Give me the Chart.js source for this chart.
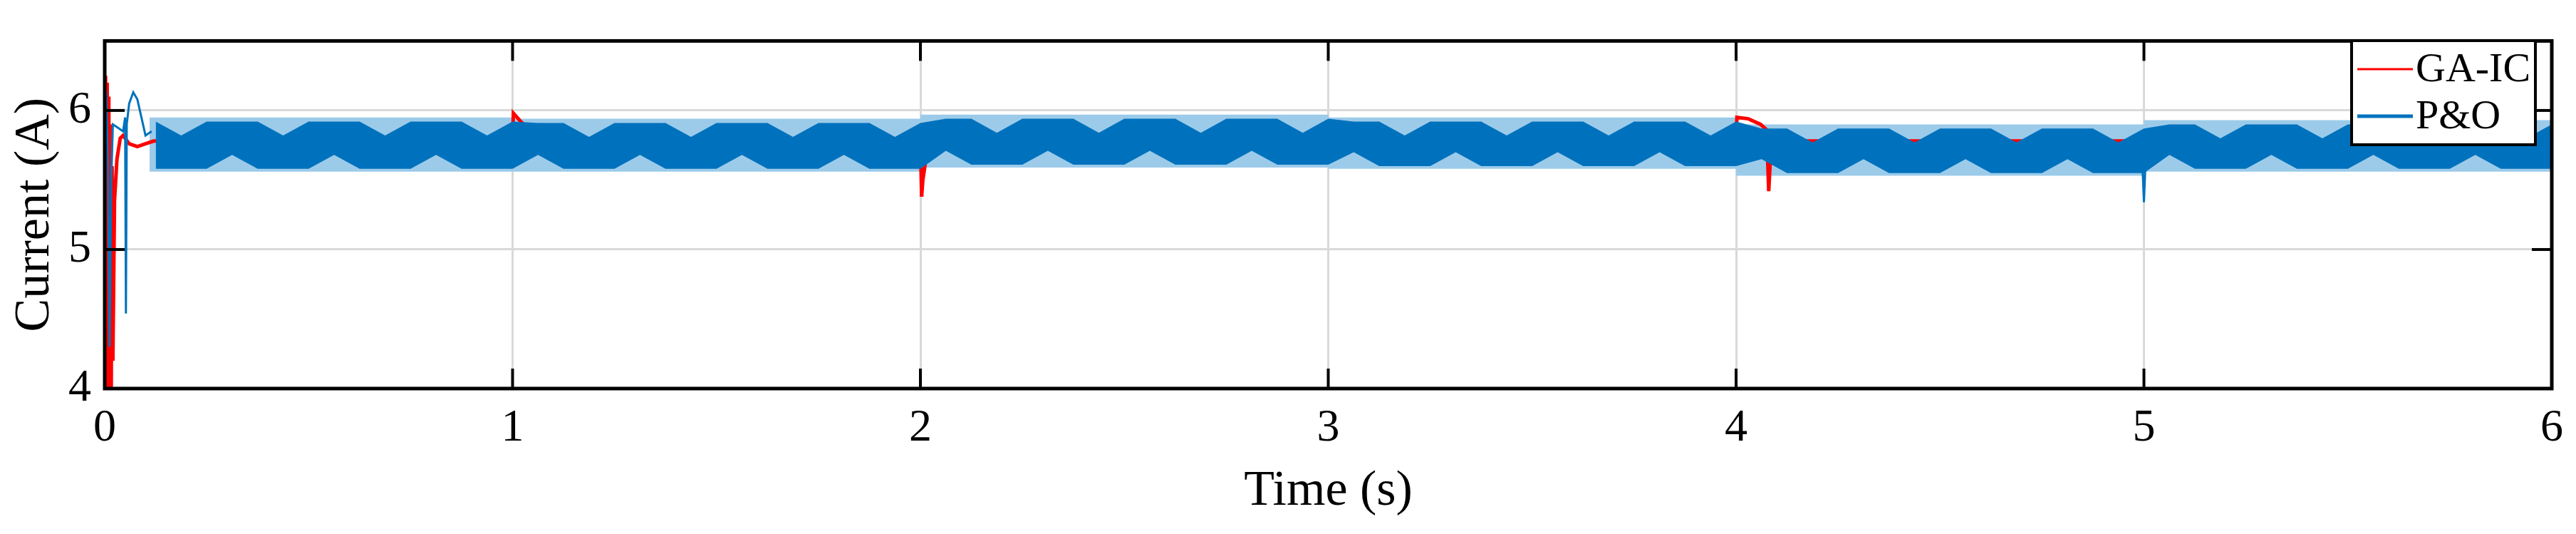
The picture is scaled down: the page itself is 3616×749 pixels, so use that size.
<!DOCTYPE html>
<html>
<head>
<meta charset="utf-8">
<script src="https://cdn.jsdelivr.net/npm/chart.js@4/dist/chart.umd.min.js"></script>
<style>
  html, body { margin: 0; padding: 0; background: #fff; }
  #wrap { width: 3616px; height: 749px; }
</style>
</head>
<body>
<div id="wrap"><canvas id="c" width="3616" height="749"></canvas></div>
<script>
"use strict";

// GA-IC trace (transients visible, otherwise hidden under the P&O band)
var gaTime = [0, 0.002, 0.004, 0.006, 0.008, 0.010, 0.012, 0.014, 0.016, 0.018, 0.020, 0.024, 0.03, 0.038, 0.045, 0.06, 0.08, 0.1, 0.12,
    1.0, 1.002, 1.02, 1.05, 1.08,
    2.0, 2.003, 2.006, 2.012, 2.02, 2.04,
    4.0, 4.002, 4.03, 4.06, 4.075, 4.08, 4.085, 4.1,
    6.0];
var gaCurrent = [4, 6.25, 4, 6.2, 4, 6.1, 4, 5.9, 4, 5.6, 4.2, 5.35, 5.65, 5.8, 5.82, 5.76, 5.74, 5.76, 5.78,
    5.78, 5.98, 5.92, 5.84, 5.78,
    5.78, 5.38, 5.5, 5.62, 5.72, 5.78,
    5.8, 5.95, 5.94, 5.9, 5.86, 5.42, 5.7, 5.78,
    5.78];

// P&O start-up transient and the dip at t = 5 s
var poTime = [0, 0.004, 0.008, 0.012, 0.016, 0.02, 0.03, 0.045, 0.05, 0.052, 0.054, 0.06, 0.07, 0.08, 0.09, 0.1, 0.115,
    2.5,
    4.995, 5.0, 5.005];
var poCurrent = [6.2, 6.1, 5.6, 4.3, 5.5, 5.9, 5.88, 5.85, 5.95, 4.54, 5.9, 6.05, 6.13, 6.08, 5.95, 5.82, 5.85,
    null,
    5.7, 5.34, 5.7];

// P&O ripple band (dense switching ripple drawn as an envelope)
var bandTime = [0.125, 0.1875, 0.25, 0.3125, 0.375, 0.4375, 0.5, 0.5625, 0.625, 0.6875, 0.75, 0.8125, 0.875, 0.9375, 1.0,
    1.0625, 1.125, 1.1875, 1.25, 1.3125, 1.375, 1.4375, 1.5, 1.5625, 1.625, 1.6875, 1.75, 1.8125, 1.875, 1.9375, 2.0,
    2.0625, 2.125, 2.1875, 2.25, 2.3125, 2.375, 2.4375, 2.5, 2.5625, 2.625, 2.6875, 2.75, 2.8125, 2.875, 2.9375, 3.0,
    3.0625, 3.125, 3.1875, 3.25, 3.3125, 3.375, 3.4375, 3.5, 3.5625, 3.625, 3.6875, 3.75, 3.8125, 3.875, 3.9375, 4.0,
    4.0625, 4.125, 4.1875, 4.25, 4.3125, 4.375, 4.4375, 4.5, 4.5625, 4.625, 4.6875, 4.75, 4.8125, 4.875, 4.9375, 5.0,
    5.0625, 5.125, 5.1875, 5.25, 5.3125, 5.375, 5.4375, 5.5, 5.5625, 5.625, 5.6875, 5.75, 5.8125, 5.875, 5.9375, 6.0];
var bandUpper = [5.92, 5.82, 5.92, 5.92, 5.92, 5.82, 5.92, 5.92, 5.92, 5.82, 5.92, 5.92, 5.92, 5.82, 5.92,
    5.91, 5.91, 5.81, 5.91, 5.91, 5.91, 5.81, 5.91, 5.91, 5.91, 5.81, 5.91, 5.91, 5.91, 5.81, 5.91,
    5.94, 5.94, 5.84, 5.94, 5.94, 5.94, 5.84, 5.94, 5.94, 5.94, 5.84, 5.94, 5.94, 5.94, 5.84, 5.94,
    5.92, 5.92, 5.82, 5.92, 5.92, 5.92, 5.82, 5.92, 5.92, 5.92, 5.82, 5.92, 5.92, 5.92, 5.82, 5.92,
    5.87, 5.87, 5.77, 5.87, 5.87, 5.87, 5.77, 5.87, 5.87, 5.87, 5.77, 5.87, 5.87, 5.87, 5.77, 5.87,
    5.90, 5.90, 5.80, 5.90, 5.90, 5.90, 5.80, 5.90, 5.90, 5.90, 5.80, 5.90, 5.90, 5.90, 5.80, 5.90];
var bandLower = [5.58, 5.58, 5.58, 5.68, 5.58, 5.58, 5.58, 5.68, 5.58, 5.58, 5.58, 5.68, 5.58, 5.58, 5.58,
    5.68, 5.58, 5.58, 5.58, 5.68, 5.58, 5.58, 5.58, 5.68, 5.58, 5.58, 5.58, 5.68, 5.58, 5.58, 5.58,
    5.71, 5.61, 5.61, 5.61, 5.71, 5.61, 5.61, 5.61, 5.71, 5.61, 5.61, 5.61, 5.71, 5.61, 5.61, 5.61,
    5.70, 5.60, 5.60, 5.60, 5.70, 5.60, 5.60, 5.60, 5.70, 5.60, 5.60, 5.60, 5.70, 5.60, 5.60, 5.60,
    5.65, 5.55, 5.55, 5.55, 5.65, 5.55, 5.55, 5.55, 5.65, 5.55, 5.55, 5.55, 5.65, 5.55, 5.55, 5.55,
    5.68, 5.58, 5.58, 5.58, 5.68, 5.58, 5.58, 5.58, 5.68, 5.58, 5.58, 5.58, 5.68, 5.58, 5.58, 5.58];
// outer (light) ripple extent per second
var rippleTime = [0.11, 1.0, 1.0, 2.0, 2.0, 3.0, 3.0, 4.0, 4.0, 5.0, 5.0, 6.0];
var rippleUpper = [5.95, 5.95, 5.94, 5.94, 5.97, 5.97, 5.95, 5.95, 5.90, 5.90, 5.93, 5.93];
var rippleLower = [5.56, 5.56, 5.56, 5.56, 5.59, 5.59, 5.58, 5.58, 5.53, 5.53, 5.56, 5.56];

var xTicks = [0, 1, 2, 3, 4, 5, 6];
var yTicks = [4, 5, 6];
var legendLabels = ["GA-IC", "P&O"];
var legendColors = ["#ff0000", "#0072bd"];

var FONT = "'Liberation Serif', 'Times New Roman', serif";
var BLUE = "#0072bd";
var LIGHT = "#9ccbea";

function pts(xs, ys) {
    var out = [];
    for (var i = 0; i < xs.length; i++) out.push({ x: xs[i], y: ys[i] });
    return out;
}

// frame, inward ticks and legend box, MATLAB style
var framePlugin = {
    id: "frame",
    afterDraw: function (chart) {
        var ctx = chart.ctx, a = chart.chartArea;
        var xs = chart.scales.x, ys = chart.scales.y;
        ctx.save();
        ctx.strokeStyle = "#000";
        ctx.lineWidth = 4;
        xTicks.forEach(function (v) {
            var px = xs.getPixelForValue(v);
            ctx.beginPath(); ctx.moveTo(px, a.bottom); ctx.lineTo(px, a.bottom - 28); ctx.stroke();
            ctx.beginPath(); ctx.moveTo(px, a.top); ctx.lineTo(px, a.top + 28); ctx.stroke();
        });
        yTicks.forEach(function (v) {
            var py = ys.getPixelForValue(v);
            ctx.beginPath(); ctx.moveTo(a.left, py); ctx.lineTo(a.left + 28, py); ctx.stroke();
            ctx.beginPath(); ctx.moveTo(a.right, py); ctx.lineTo(a.right - 28, py); ctx.stroke();
        });
        ctx.lineWidth = 5;
        ctx.strokeRect(a.left, a.top, a.right - a.left, a.bottom - a.top);

        // legend
        var lx = 3301, ly = 57, lw = 258, lh = 146;
        ctx.fillStyle = "#fff";
        ctx.fillRect(lx, ly, lw, lh);
        ctx.lineWidth = 4;
        ctx.strokeRect(lx, ly, lw, lh);
        ctx.font = "58px " + FONT;
        ctx.textBaseline = "middle";
        for (var i = 0; i < legendLabels.length; i++) {
            var cy = ly + 40 + i * 66;
            ctx.strokeStyle = legendColors[i];
            ctx.lineWidth = i === 0 ? 3 : 5;
            ctx.beginPath(); ctx.moveTo(lx + 8, cy); ctx.lineTo(lx + 86, cy); ctx.stroke();
            ctx.fillStyle = "#000";
            ctx.fillText(legendLabels[i], lx + 90, cy + 2);
        }
        ctx.restore();
    }
};

// lower order is drawn on top
var bandStyle = { pointRadius: 0, borderWidth: 0, tension: 0 };

new Chart(document.getElementById("c"), {
    type: "line",
    data: {
        datasets: [
            { label: "P&O", data: pts(poTime, poCurrent), borderColor: BLUE, borderWidth: 3, pointRadius: 0, fill: false, spanGaps: false, order: 1 },
            Object.assign({ label: "band-top", data: pts(bandTime, bandUpper), fill: "+1", backgroundColor: BLUE, borderColor: BLUE, order: 2 }, bandStyle),
            Object.assign({ label: "band-bottom", data: pts(bandTime, bandLower), fill: false, borderColor: BLUE, order: 3 }, bandStyle),
            { label: "GA-IC", data: pts(gaTime, gaCurrent), borderColor: "#ff0000", borderWidth: 5, pointRadius: 0, fill: false, order: 4 },
            Object.assign({ label: "ripple-top", data: pts(rippleTime, rippleUpper), fill: "+1", backgroundColor: LIGHT, borderColor: LIGHT, order: 5 }, bandStyle),
            Object.assign({ label: "ripple-bottom", data: pts(rippleTime, rippleLower), fill: false, borderColor: LIGHT, order: 6 }, bandStyle)
        ]
    },
    options: {
        responsive: false,
        animation: false,
        devicePixelRatio: 1,
        layout: { padding: { top: 33, right: 27, bottom: 0, left: 0 } },
        plugins: { legend: { display: false }, tooltip: { enabled: false } },
        scales: {
            x: {
                type: "linear", min: 0, max: 6,
                afterFit: function (s) { s.height = 204; },
                afterBuildTicks: function (s) { s.ticks = xTicks.map(function (v) { return { value: v }; }); },
                ticks: { font: { family: FONT, size: 64 }, color: "#000", padding: 18, maxRotation: 0 },
                grid: { color: "#d9d9d9", lineWidth: 3, drawTicks: false },
                border: { display: false },
                title: { display: true, text: "Time (s)", font: { family: FONT, size: 70 }, color: "#000", padding: { top: 0, bottom: 17 } }
            },
            y: {
                min: 4, max: 6.5,
                afterFit: function (s) { s.width = 147; },
                afterBuildTicks: function (s) { s.ticks = yTicks.map(function (v) { return { value: v }; }); },
                ticks: { font: { family: FONT, size: 64 }, color: "#000", padding: 19 },
                grid: { color: "#d9d9d9", lineWidth: 3, drawTicks: false },
                border: { display: false },
                title: { display: true, text: "Current (A)", font: { family: FONT, size: 70 }, color: "#000", padding: { top: 8, bottom: 0 } }
            }
        }
    },
    plugins: [framePlugin]
});
</script>
</body>
</html>
